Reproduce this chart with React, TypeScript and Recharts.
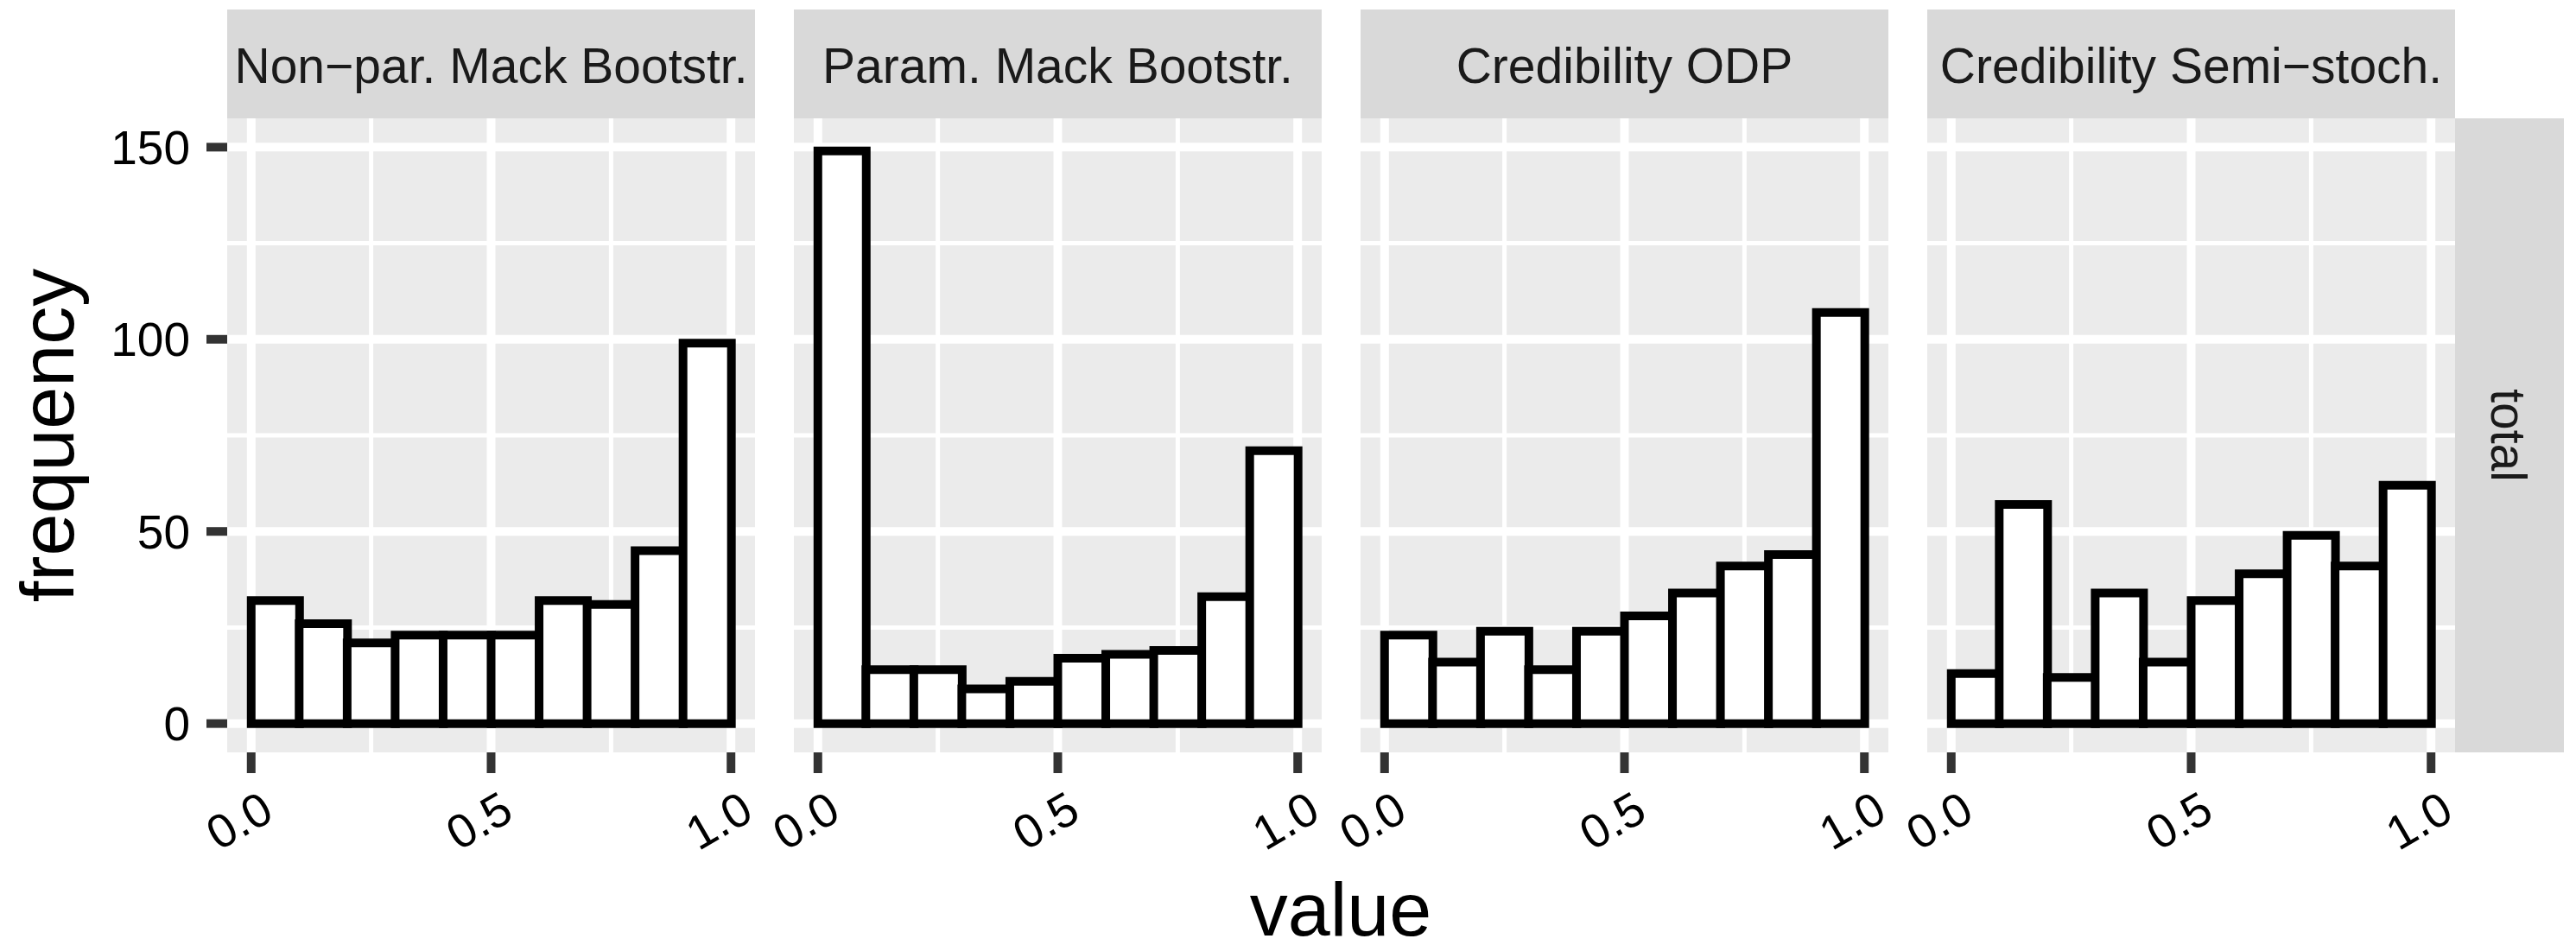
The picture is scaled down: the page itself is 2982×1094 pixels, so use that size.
import React from "react";
import { Bar, BarChart, CartesianGrid, XAxis, YAxis } from "recharts";

// bin centres of the histogram (binwidth 0.1, boundary 0)
const binMids = [0.05, 0.15, 0.25, 0.35, 0.45, 0.55, 0.65, 0.75, 0.85, 0.95];

const methods = [
  "Non\u2212par. Mack Bootstr.",
  "Param. Mack Bootstr.",
  "Credibility ODP",
  "Credibility Semi\u2212stoch.",
];

const nonParMack = [32, 26, 21, 23, 23, 23, 32, 31, 45, 99];
const paramMack = [149, 14, 14, 9, 11, 17, 18, 19, 33, 71];
const credODP = [23, 16, 24, 14, 24, 28, 34, 41, 44, 107];
const credSemiStoch = [13, 57, 12, 34, 16, 32, 39, 49, 41, 62];

const xTicks = [0, 0.5, 1];
const yTicks = [0, 50, 100, 150];
const xMinor = [0.25, 0.75];
const yMinor = [25, 75, 125];
const rowLabel = "total";

const series = [nonParMack, paramMack, credODP, credSemiStoch];

const FONT = "'Liberation Sans', Arial, Helvetica, sans-serif";
const PANEL_W = 611;
const PANEL_H = 734;
const PANEL_TOP = 137;
const STRIP_TOP = 11;
const PAD = 70; // room for rotated tick labels outside the panel
const AXIS_H = 140;
const panelLeft = (i: number) => 263 + i * 656;

function XTick(props: any) {
  const { x, y, payload } = props;
  const cx = x - 14;
  const cy = y + 55;
  return (
    <text
      x={cx}
      y={cy}
      transform={`rotate(-30 ${cx} ${cy})`}
      textAnchor="middle"
      dominantBaseline="central"
      fontSize={55}
      fill="#000"
    >
      {Number(payload.value).toFixed(1)}
    </text>
  );
}

function Panel({ index }: { index: number }) {
  const data = binMids.map((mid, i) => ({ mid, count: series[index][i] }));
  const first = index === 0;
  const yAxisW = first ? 263 : 0;
  const marginLeft = first ? 0 : PAD;
  const left = first ? 0 : panelLeft(index) - PAD;

  return (
    <div style={{ position: "absolute", left, top: PANEL_TOP }}>
      <BarChart
        width={marginLeft + yAxisW + PANEL_W + PAD}
        height={PANEL_H + AXIS_H}
        data={data}
        margin={{ top: 0, right: PAD, bottom: 0, left: marginLeft }}
        barCategoryGap={0}
        barGap={0}
      >
        <CartesianGrid
          fill="#EBEBEB"
          stroke="#fff"
          strokeWidth={5}
          horizontalValues={yMinor}
          verticalValues={xMinor}
        />
        <CartesianGrid
          stroke="#fff"
          strokeWidth={10}
          horizontalValues={yTicks}
          verticalValues={xTicks}
        />
        <XAxis
          type="number"
          dataKey="mid"
          domain={[-0.05, 1.05]}
          ticks={xTicks}
          interval={0}
          height={AXIS_H}
          tickSize={24}
          tickMargin={0}
          axisLine={false}
          tickLine={{ stroke: "#333", strokeWidth: 10 }}
          tick={<XTick />}
        />
        <YAxis
          type="number"
          domain={[-7.5, 157.5]}
          ticks={yTicks}
          hide={!first}
          width={yAxisW}
          tickSize={24}
          tickMargin={19}
          axisLine={false}
          tickLine={{ stroke: "#333", strokeWidth: 10 }}
          tick={{ fill: "#000", fontSize: 55 }}
          interval={0}
        />
        <Bar
          dataKey="count"
          fill="#fff"
          stroke="#000"
          strokeWidth={10}
          isAnimationActive={false}
        />
      </BarChart>
    </div>
  );
}

export default function App() {
  const stripX = panelLeft(3) + PANEL_W;
  return (
    <div
      style={{
        position: "absolute",
        left: 0,
        top: 0,
        width: 2982,
        height: 1094,
        background: "#fff",
        fontFamily: FONT,
      }}
    >
      <svg
        width={2982}
        height={1094}
        style={{ position: "absolute", left: 0, top: 0 }}
        fontFamily={FONT}
      >
        {methods.map((m, i) => (
          <g key={m}>
            <rect
              x={panelLeft(i)}
              y={STRIP_TOP}
              width={PANEL_W}
              height={PANEL_TOP - STRIP_TOP}
              fill="#D9D9D9"
            />
            <text
              x={panelLeft(i) + PANEL_W / 2}
              y={96}
              textAnchor="middle"
              fontSize={57}
              fill="#1A1A1A"
            >
              {m}
            </text>
          </g>
        ))}
        <rect x={stripX} y={PANEL_TOP} width={126} height={PANEL_H} fill="#D9D9D9" />
        <text
          x={2884}
          y={504}
          transform="rotate(90 2884 504)"
          textAnchor="middle"
          fontSize={57}
          fill="#1A1A1A"
        >
          {rowLabel}
        </text>
        <text
          x={85}
          y={504}
          transform="rotate(-90 85 504)"
          textAnchor="middle"
          fontSize={88}
          fill="#000"
        >
          frequency
        </text>
        <text x={1552} y={1083} textAnchor="middle" fontSize={88} fill="#000">
          value
        </text>
      </svg>
      {methods.map((m, i) => (
        <Panel key={m} index={i} />
      ))}
    </div>
  );
}
